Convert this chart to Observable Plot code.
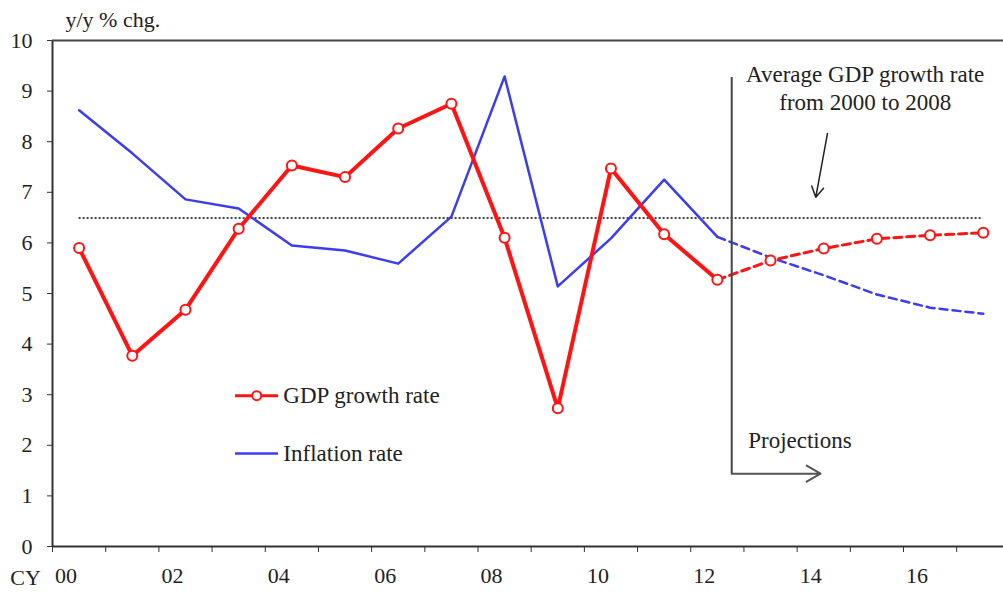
<!DOCTYPE html>
<html><head><meta charset="utf-8">
<script src="https://cdn.jsdelivr.net/npm/d3@7"></script>
<script src="https://cdn.jsdelivr.net/npm/@observablehq/plot@0.6"></script>
<style>
body{margin:0;background:#fff}
#chart svg{background:#fff}
</style>
</head><body><div id="chart"></div>
<script>
const years = [2000,2001,2002,2003,2004,2005,2006,2007,2008,2009,2010,2011,2012,2013,2014,2015,2016,2017];
const gdp = [5.9,3.77,4.68,6.28,7.53,7.3,8.26,8.75,6.1,2.73,7.47,6.17,5.27,5.65,5.89,6.08,6.15,6.2];
const inflation = [8.62,7.77,6.86,6.68,5.95,5.85,5.59,6.52,9.29,5.14,6.09,7.25,6.12,5.71,5.36,4.98,4.72,4.6];
const lastActual = 2012;
const avgGdp = 6.49;
const avgFrom = 2000, avgTo = 2017;
const yTicks = [0,1,2,3,4,5,6,7,8,9,10];
const xLabelYears = [2000,2002,2004,2006,2008,2010,2012,2014,2016];
const xTickLabels = ["00","02","04","06","08","10","12","14","16"];

const rows = years.map((y, i) => ({year: y, gdp: gdp[i], inf: inflation[i]}));
const actual = rows.filter(d => d.year <= lastActual);
const proj = rows.filter(d => d.year >= lastActual);

const RED = "#ff1414", BLUE = "#3c3cf2", INK = "#222";
const FF = "Liberation Serif, DejaVu Serif, serif";

const chart = Plot.plot({
  width: 1003, height: 596,
  marginLeft: 52, marginRight: 0, marginTop: 40, marginBottom: 50,
  style: {fontFamily: FF, fontSize: "20px", color: INK, background: "#fff"},
  x: {domain: [1999.5, 2017.38], axis: null},
  y: {domain: [0, 10], axis: null},
  marks: [
    Plot.ruleY([avgGdp], {x1: avgFrom, x2: avgTo, stroke: "#444", strokeWidth: 2, strokeDasharray: "2,2"}),
    Plot.line(actual, {x: "year", y: "inf", stroke: BLUE, strokeWidth: 2.5}),
    Plot.line(proj, {x: "year", y: "inf", stroke: BLUE, strokeWidth: 2.5, strokeDasharray: "8,5"}),
    Plot.line(actual, {x: "year", y: "gdp", stroke: RED, strokeWidth: 4}),
    Plot.line(proj, {x: "year", y: "gdp", stroke: RED, strokeWidth: 3, strokeDasharray: "8,5"}),
    Plot.dot(rows, {x: "year", y: "gdp", r: 5, fill: "#fff", stroke: RED, strokeWidth: 2}),
    Plot.ruleX([1999.5], {stroke: "#333", strokeWidth: 2}),
    Plot.ruleY([0], {stroke: "#333", strokeWidth: 2}),
    Plot.ruleY([10], {stroke: "#444", strokeWidth: 2}),
    Plot.axisY({ticks: yTicks, tickSize: 5, tickPadding: 15, fontSize: 22, fontFamily: FF, stroke: "#333", tickFormat: d => String(d)}),
    Plot.axisX({ticks: d3.range(1999.5, 2017, 1), tickSize: 6, tickFormat: () => "", stroke: "#333"}),
    Plot.axisX({ticks: xLabelYears, tickSize: 0, tickPadding: 21, fontSize: 22, fontFamily: FF, textAnchor: "end", dx: -2,
      tickFormat: d => xTickLabels[xLabelYears.indexOf(d)]}),
    Plot.text(["CY"], {x: 1999.5, y: 0, dx: -27, dy: 31, fontSize: 22, fontFamily: FF, fill: INK}),
    Plot.text(["y/y % chg."], {x: 1999.5, y: 10, dx: 13, dy: -21, fontSize: 22, fontFamily: FF, textAnchor: "start", fill: INK}),
    Plot.text(["Average GDP growth rate\nfrom 2000 to 2008"], {x: 2014.78, y: 9.08, fontSize: 23, fontFamily: FF, lineHeight: 1.2, fill: INK}),
    Plot.arrow([{x1: 2014.07, y1: 8.16, x2: 2013.85, y2: 6.9}], {x1: "x1", y1: "y1", x2: "x2", y2: "y2", stroke: "#222", strokeWidth: 1.5, headLength: 12}),
    Plot.ruleX([2012.27], {y1: 1.44, y2: 9.27, stroke: "#444", strokeWidth: 2}),
    Plot.arrow([{x1: 2012.27, x2: 2013.94, y: 1.44}], {x1: "x1", x2: "x2", y1: "y", y2: "y", stroke: "#555", strokeWidth: 2, headLength: 12}),
    Plot.text(["Projections"], {x: 2012.58, y: 2.09, fontSize: 23, fontFamily: FF, textAnchor: "start", fill: INK}),
    Plot.ruleY([2.98], {x1: 2002.94, x2: 2003.75, stroke: RED, strokeWidth: 3}),
    Plot.dot([0], {x: 2003.34, y: 2.98, r: 4.5, fill: "#fff", stroke: RED, strokeWidth: 2}),
    Plot.text(["GDP growth rate"], {x: 2003.84, y: 2.98, fontSize: 23, fontFamily: FF, textAnchor: "start", fill: INK}),
    Plot.ruleY([1.84], {x1: 2002.94, x2: 2003.75, stroke: BLUE, strokeWidth: 2.5}),
    Plot.text(["Inflation rate"], {x: 2003.84, y: 1.84, fontSize: 23, fontFamily: FF, textAnchor: "start", fill: INK})
  ]
});
document.getElementById("chart").append(chart);
</script>
</body></html>
